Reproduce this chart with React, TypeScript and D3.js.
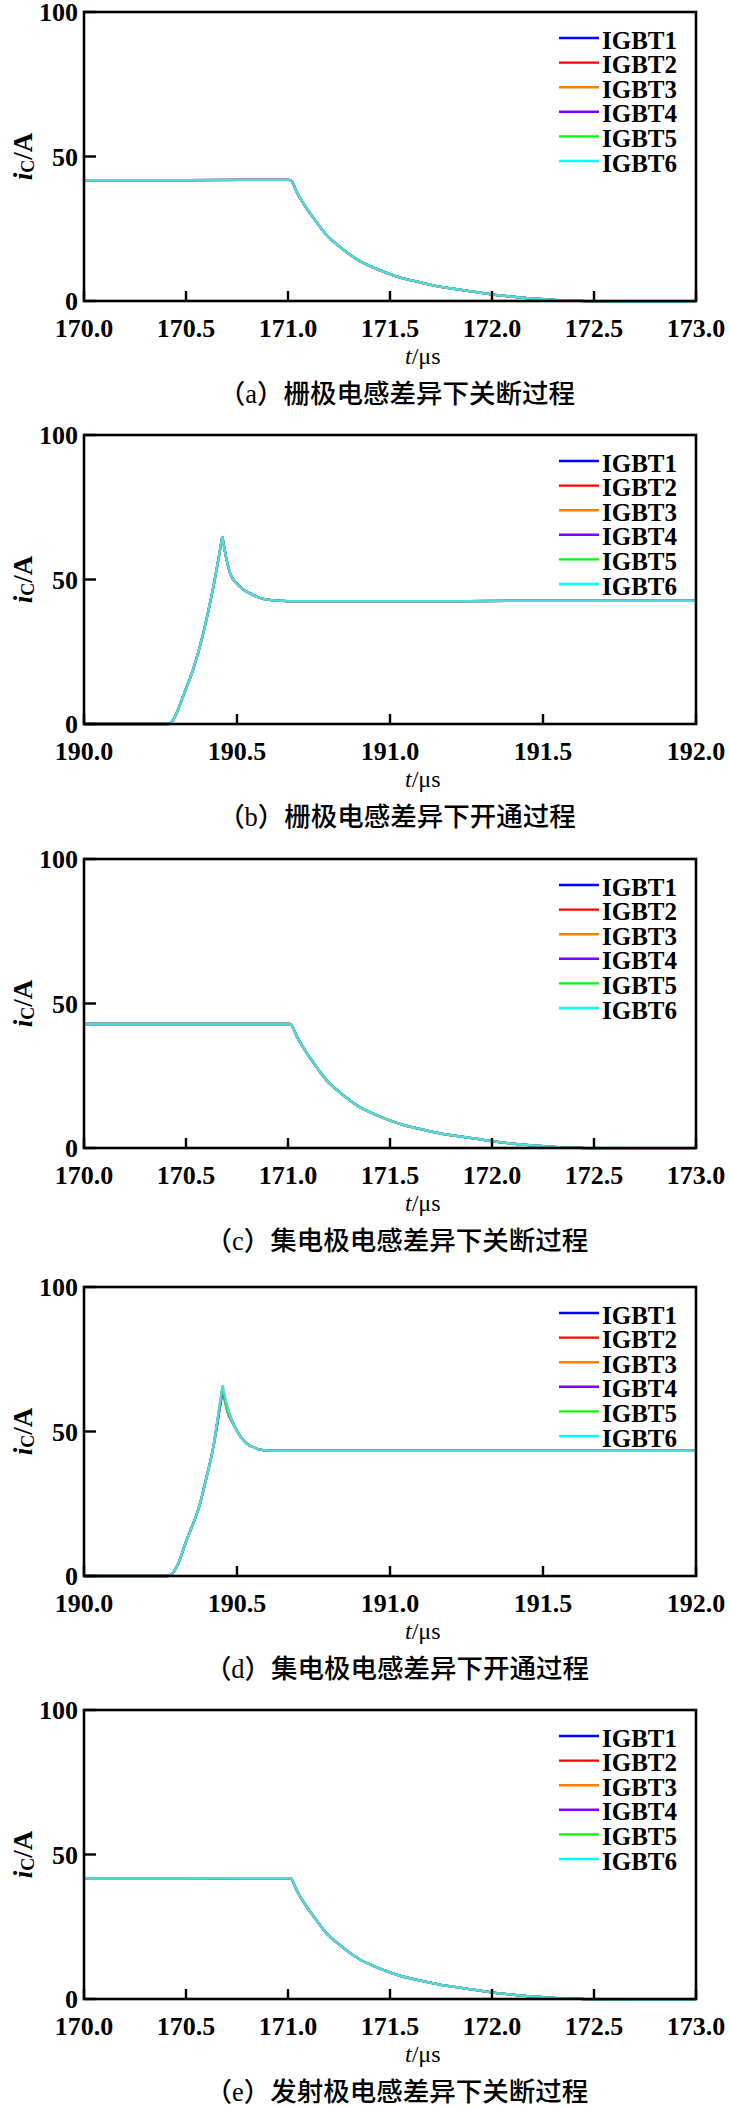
import React from 'react';
import * as d3 from 'd3';

// ---------- series metadata ----------
const seriesNames = ['IGBT1', 'IGBT2', 'IGBT3', 'IGBT4', 'IGBT5', 'IGBT6'];
const legendColors = ['#0000ff', '#ff0000', '#ff8000', '#8000ff', '#00ff00', '#00ffff'];
const lineColors = ['#2040ff', '#ff2020', '#ff8c10', '#8020ff', '#20e020', '#55d8e4'];

// ---------- axis ticks ----------
const yTicks = [0, 50, 100];
const xTicksOff = [170.0, 170.5, 171.0, 171.5, 172.0, 172.5, 173.0];
const xTicksOn = [190.0, 190.5, 191.0, 191.5, 192.0];

// ---------- captions ----------
const captions = [
  '（a）栅极电感差异下关断过程',
  '（b）栅极电感差异下开通过程',
  '（c）集电极电感差异下关断过程',
  '（d）集电极电感差异下开通过程',
  '（e）发射极电感差异下关断过程',
];

// ---------- panel (a): gate inductance, turn-off ----------
const aTime = [170.0, 170.5, 170.8, 171.0, 171.012, 171.046, 171.092, 171.14, 171.183, 171.24, 171.297, 171.35, 171.411, 171.493, 171.56, 171.639, 171.75, 171.867, 171.997, 172.1, 172.21, 172.3, 172.4, 172.5, 172.7, 173.0];
const aCurrent = [41.8, 41.8, 41.9, 41.9, 41.8, 37.2, 32.0, 27.3, 23.3, 19.6, 16.4, 13.9, 11.8, 9.5, 7.9, 6.6, 4.9, 3.7, 2.3, 1.5, 0.8, 0.4, 0.1, -0.1, -0.2, -0.2];

// ---------- panel (b): gate inductance, turn-on ----------
const bTime = [190.0, 190.2, 190.275, 190.29, 190.303, 190.328, 190.357, 190.39, 190.406, 190.423, 190.44, 190.452, 190.466, 190.477, 190.5, 190.521, 190.55, 190.575, 190.6, 190.63, 190.7, 191.0, 191.5, 192.0];
const bCurrent = [0, 0, 0, 1.2, 3.9, 10.8, 19.0, 31.5, 39.0, 47.6, 57.5, 64.9, 56.9, 52.3, 48.5, 46.5, 44.8, 43.6, 43.0, 42.7, 42.5, 42.5, 42.6, 42.6];

// ---------- panel (c): collector inductance, turn-off ----------
const cTime = [170.0, 170.5, 170.8, 171.0, 171.01, 171.046, 171.092, 171.14, 171.183, 171.24, 171.297, 171.35, 171.411, 171.493, 171.56, 171.639, 171.75, 171.867, 171.997, 172.1, 172.21, 172.3, 172.4, 172.5, 172.7, 173.0];
const cCurrent = [42.9, 42.9, 42.9, 42.9, 42.9, 38.2, 32.8, 28.0, 23.9, 20.1, 16.8, 14.2, 12.1, 9.7, 8.1, 6.7, 5.0, 3.8, 2.4, 1.5, 0.8, 0.4, 0.1, -0.1, -0.2, -0.2];

// ---------- panel (d): collector inductance, turn-on ----------
const dTime = [190.0, 190.2, 190.2755, 190.29, 190.305, 190.335, 190.379, 190.4, 190.4226, 190.44, 190.453, 190.46, 190.468, 190.488, 190.51, 190.532, 190.555, 190.575, 190.6, 190.64, 190.7, 191.0, 191.5, 192.0];
const dCurrent1 = [0, 0, 0, 1.0, 3.6, 12.3, 25.0, 34.0, 44.6, 55.5, 64.0, 61.0, 58.5, 52.7, 48.5, 45.8, 44.5, 43.7, 43.4, 43.3, 43.3, 43.3, 43.3, 43.3];
const dCurrent2 = [0, 0, 0, 1.0, 3.6, 12.3, 25.0, 34.0, 44.6, 56.0, 65.0, 62.0, 57.0, 52.7, 48.5, 45.8, 44.5, 43.7, 43.4, 43.3, 43.3, 43.3, 43.3, 43.3];
const dCurrent3 = [0, 0, 0, 1.0, 3.6, 12.3, 25.0, 34.0, 44.6, 56.5, 65.5, 60.5, 57.5, 52.7, 48.5, 45.8, 44.5, 43.7, 43.4, 43.3, 43.3, 43.3, 43.3, 43.3];
const dCurrent4 = [0, 0, 0, 1.0, 3.6, 12.3, 25.0, 34.0, 44.6, 56.0, 64.5, 61.5, 58.0, 52.7, 48.5, 45.8, 44.5, 43.7, 43.4, 43.3, 43.3, 43.3, 43.3, 43.3];
const dCurrent5 = [0, 0, 0, 1.0, 3.6, 12.3, 25.0, 34.0, 44.6, 56.5, 65.8, 61.0, 57.5, 52.7, 48.5, 45.8, 44.5, 43.7, 43.4, 43.3, 43.3, 43.3, 43.3, 43.3];
const dCurrent6 = [0, 0, 0, 1.0, 3.6, 12.3, 25.0, 34.0, 44.6, 57.0, 66.0, 62.5, 58.8, 52.7, 48.5, 45.8, 44.5, 43.7, 43.4, 43.3, 43.3, 43.3, 43.3, 43.3];

// ---------- panel (e): emitter inductance, turn-off ----------
const eTime = [170.0, 170.5, 170.8, 171.0, 171.012, 171.046, 171.092, 171.14, 171.183, 171.24, 171.297, 171.35, 171.411, 171.493, 171.56, 171.639, 171.75, 171.867, 171.997, 172.1, 172.21, 172.3, 172.4, 172.5, 172.7, 173.0];
const eCurrent = [41.7, 41.7, 41.8, 41.8, 41.7, 37.1, 31.9, 27.2, 23.2, 19.5, 16.3, 13.8, 11.7, 9.4, 7.8, 6.5, 4.9, 3.7, 2.3, 1.5, 0.8, 0.4, 0.1, -0.1, -0.2, -0.2];

type Series = { name: string; legend: string; line: string; t: number[]; v: number[] };

const same = (t: number[], v: number[]): Series[] =>
  seriesNames.map((n, i) => ({ name: n, legend: legendColors[i], line: lineColors[i], t, v }));

const panels = [
  { top: 12, domain: [170, 173], ticks: xTicksOff, series: same(aTime, aCurrent), caption: captions[0] },
  { top: 435, domain: [190, 192], ticks: xTicksOn, series: same(bTime, bCurrent), caption: captions[1] },
  { top: 859, domain: [170, 173], ticks: xTicksOff, series: same(cTime, cCurrent), caption: captions[2] },
  {
    top: 1287,
    domain: [190, 192],
    ticks: xTicksOn,
    series: [dCurrent1, dCurrent2, dCurrent3, dCurrent4, dCurrent5, dCurrent6].map((v, i) => ({
      name: seriesNames[i], legend: legendColors[i], line: lineColors[i], t: dTime, v,
    })),
    caption: captions[3],
  },
  { top: 1710, domain: [170, 173], ticks: xTicksOff, series: same(eTime, eCurrent), caption: captions[4] },
];

const LEFT = 84;
const RIGHT = 696;
const HEIGHT = 289;
const SERIF = 'Liberation Serif, Times New Roman, serif';
const CAPTION_FONT = 'Liberation Serif, Noto Sans CJK SC, serif';

function Panel({ top, domain, ticks, series, caption }: any) {
  const x = d3.scaleLinear().domain(domain).range([LEFT, RIGHT]);
  const y = d3.scaleLinear().domain([0, 100]).range([top + HEIGHT, top]);
  const bottom = top + HEIGHT;
  const mid = (top + bottom) / 2;
  const line = d3
    .line<[number, number]>()
    .x((d) => x(d[0]))
    .y((d) => y(d[1]))
    .curve(d3.curveMonotoneX);
  return (
    <g>
      {series.map((s: Series) => {
        const pts: [number, number][] = s.t.map((t, i) => [t, s.v[i]]);
        // split at the peak so the turn-on overshoot keeps its sharp tip
        const peak = d3.maxIndex(pts, (d) => d[1]);
        const segs =
          peak > 0 && peak < pts.length - 1 && pts[peak][1] > pts[pts.length - 1][1] + 5
            ? [pts.slice(0, peak + 1), pts.slice(peak)]
            : [pts];
        return (
          <path
            key={s.name}
            d={segs.map((sg) => line(sg) || '').join('')}
            fill="none"
            stroke={s.line}
            strokeWidth={2.3}
            strokeLinejoin="round"
          />
        );
      })}
      {/* frame */}
      <rect x={LEFT} y={top} width={RIGHT - LEFT} height={HEIGHT} fill="none" stroke="#000" strokeWidth={2.6} />
      {/* y ticks */}
      {yTicks.map((t) => (
        <g key={'y' + t}>
          <line x1={LEFT} x2={LEFT + 12} y1={y(t)} y2={y(t)} stroke="#000" strokeWidth={2.4} />
          <text x={LEFT - 6} y={y(t) + 9} textAnchor="end" fontFamily={SERIF} fontWeight="bold" fontSize={26}>
            {t}
          </text>
        </g>
      ))}
      {/* x ticks */}
      {ticks.map((t: number) => (
        <g key={'x' + t}>
          <line x1={x(t)} x2={x(t)} y1={bottom} y2={bottom - 10} stroke="#000" strokeWidth={2.4} />
          <text x={x(t)} y={bottom + 36} textAnchor="middle" fontFamily={SERIF} fontWeight="bold" fontSize={26}>
            {d3.format('.1f')(t)}
          </text>
        </g>
      ))}
      {/* axis titles */}
      <text x={405} y={bottom + 63} fontFamily={SERIF} fontSize={24}>
        <tspan fontStyle="italic">t</tspan>/μs
      </text>
      <text transform={`translate(32, ${mid}) rotate(-90)`} textAnchor="middle" fontFamily={SERIF} fontSize={27} fontWeight="bold">
        <tspan fontStyle="italic">i</tspan>
        <tspan fontSize={18} dy={2}>C</tspan>
        <tspan dy={-2}>/A</tspan>
      </text>
      {/* legend */}
      {series.map((s: Series, i: number) => {
        const ly = top + 26 + i * 24.6;
        return (
          <g key={'lg' + s.name}>
            <line x1={559} x2={599} y1={ly} y2={ly} stroke={s.legend} strokeWidth={2.4} />
            <text x={602} y={ly + 10.5} fontFamily={SERIF} fontWeight="bold" fontSize={25}>
              {s.name}
            </text>
          </g>
        );
      })}
      {/* caption */}
      <text x={397} y={bottom + 102} textAnchor="middle" fontFamily={CAPTION_FONT} fontWeight={500} fontSize={26.5}>
        {caption}
      </text>
    </g>
  );
}

export default function App() {
  return (
    <svg
      width={729}
      height={2107}
      viewBox="0 0 729 2107"
      style={{ position: 'absolute', left: 0, top: 0, background: '#fff', display: 'block' }}
    >
      <rect x={0} y={0} width={729} height={2107} fill="#fff" />
      {panels.map((p, i) => (
        <Panel key={i} {...p} />
      ))}
    </svg>
  );
}
